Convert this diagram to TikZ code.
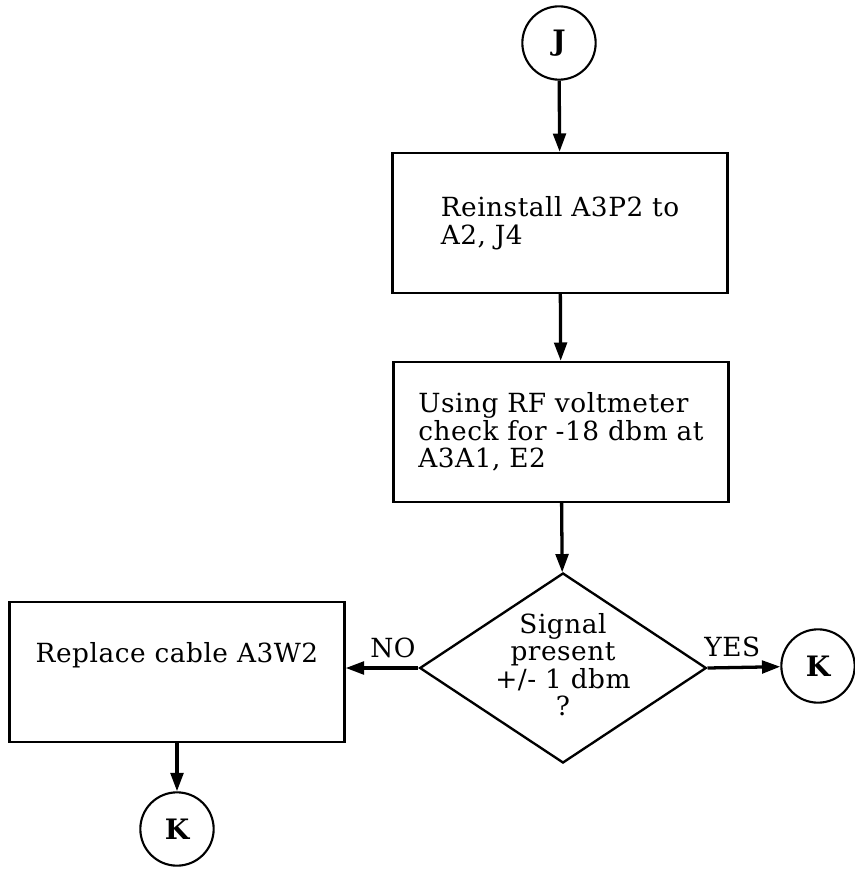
\documentclass[tikz,border=0pt]{standalone}
\usepackage{fontspec}
\setmainfont[LetterSpace=2]{DejaVu Serif}
\usetikzlibrary{shapes.geometric, arrows.meta}

\begin{document}
\begin{tikzpicture}[
    x=0.03cm, y=-0.03cm,
    font=\fontsize{22.5}{23.5}\selectfont,
    stepbox/.style={rectangle, draw, line width=2pt, align=left, minimum width=10.05cm, minimum height=4.2cm},
    query/.style={diamond, draw, line width=2pt, inner sep=0pt, minimum width=8.6cm, minimum height=5.7cm},
    conn/.style={circle, draw, line width=1.8pt, minimum size=2.2cm, inner sep=0pt, font=\fontsize{24}{24}\selectfont\bfseries},
    flow/.style={draw, line width=2.8pt, -{Triangle[length=0.55cm, width=0.38cm]}}
]
    \useasboundingbox (0,0) rectangle (854,874);

    \node [conn] (j) at (559,43) {J};
    \node [stepbox] (reinstall) at (560,223) {Reinstall A3P2 to\\A2, J4};
    \node [stepbox] (measure) at (561,432) {Using RF voltmeter\\check for -18 dbm at\\A3A1, E2};
    \node [query, label={[align=center, yshift=3pt]center:Signal\\present\\+/- 1 dbm\\?}] (signal) at (563,668) {};
    \node [stepbox, text height=0.55cm, text depth=1.15cm] (cable) at (177,672) {Replace cable A3W2};
    \node [conn] (kyes) at (818,666) {K};
    \node [conn] (kno) at (177,829) {K};

    \path [flow] (j) -- (reinstall);
    \path [flow] (reinstall) -- (measure);
    \path [flow] (measure) -- (signal);
    \path [flow] (signal) -- node [above=4pt, pos=0.35] {NO} (signal.west -| cable.east);
    \path [flow] (signal.east) -- node [above=4pt, pos=0.34] {YES} (kyes);
    \path [flow] (cable) -- (kno);
\end{tikzpicture}
\end{document}
